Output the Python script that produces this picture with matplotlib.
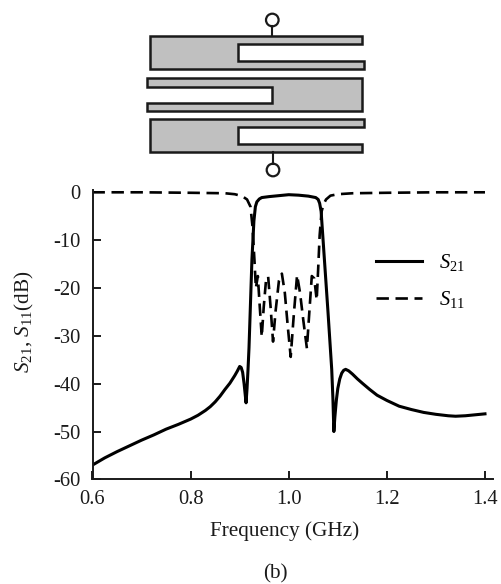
import matplotlib
matplotlib.use("Agg")
import matplotlib.pyplot as plt
from matplotlib.patches import Polygon, Circle

plt.rcParams['font.family'] = ['Liberation Serif', 'DejaVu Serif']
plt.rcParams['mathtext.fontset'] = 'custom'
plt.rcParams['mathtext.it'] = 'Liberation Serif:italic'
plt.rcParams['mathtext.rm'] = 'Liberation Serif'

W, H = 501, 584
FS_TICK = 14.8
FS_LABEL = 15.3

s21_f = [0.6, 0.625, 0.65, 0.675, 0.7, 0.725, 0.75, 0.775, 0.8, 0.815, 0.83, 0.84, 0.85, 0.86, 0.87, 0.88, 0.89,
         0.895, 0.9, 0.903, 0.906, 0.909, 0.911, 0.913, 0.915, 0.917, 0.919, 0.925, 0.929, 0.932, 0.935, 0.94,
         0.945, 0.96, 0.98, 1.0, 1.02, 1.04, 1.055, 1.06, 1.063, 1.066,
         1.072, 1.08, 1.0876, 1.09, 1.092, 1.094, 1.097, 1.1, 1.104, 1.108, 1.112, 1.116, 1.122, 1.13, 1.14, 1.15,
         1.165, 1.18, 1.2, 1.225, 1.25, 1.275, 1.3, 1.325, 1.34, 1.36, 1.38, 1.4]
s21_db = [-57, -55.5, -54.2, -53, -51.8, -50.7, -49.5, -48.5, -47.4, -46.6, -45.6, -44.8, -43.8, -42.6, -41.2, -39.9, -38.3,
          -37.4, -36.4, -36.6, -37.6, -40, -42, -44, -41, -37, -32.5, -14, -6, -3, -2, -1.4,
          -1.1, -0.9, -0.7, -0.5, -0.6, -0.8, -1.1, -1.5, -2.3, -4,
          -13, -25, -37, -43, -50, -47, -43.5, -41, -39, -37.8, -37.2, -37, -37.3, -38, -39, -39.9,
          -41.2, -42.4, -43.5, -44.7, -45.4, -46, -46.4, -46.7, -46.8, -46.7, -46.5, -46.3]

s11_f = [0.6, 0.7, 0.8, 0.87, 0.89, 0.905, 0.915, 0.922, 0.926, 0.93, 0.933, 0.937, 0.941, 0.945,
         0.949, 0.954, 0.958, 0.963, 0.968, 0.973, 0.98, 0.986, 0.992, 0.998, 1.004, 1.01, 1.017,
         1.023, 1.03, 1.037, 1.042, 1.047, 1.052, 1.057, 1.06, 1.063, 1.067, 1.071, 1.076, 1.085,
         1.1, 1.13, 1.2, 1.3, 1.4]
s11_db = [0, 0, -0.1, -0.2, -0.4, -0.8, -1.5, -3, -7, -14, -20, -17.5, -24, -30.2,
          -24, -18, -17.6, -24, -31.2, -25, -18.5, -17, -21, -28, -34.4, -26, -17.3,
          -21, -27, -32.6, -25, -17.5, -18, -22.5, -16, -9, -4, -2.5, -1.5, -0.7,
          -0.4, -0.2, -0.1, 0, 0]

xticks = [0.6, 0.8, 1.0, 1.2, 1.4]
yticks = [0, -10, -20, -30, -40, -50, -60]

top_res = [(150, 36), (361.7, 36), (361.7, 44.3), (237.7, 44.3), (237.7, 61.3), (364, 61.3), (364, 69), (150, 69)]
mid_res = [(147.3, 77.7), (361.7, 77.7), (361.7, 111), (147.3, 111), (147.3, 103.3), (271.7, 103.3), (271.7, 86.7), (147.3, 86.7)]
bot_res = [(150, 119), (364, 119), (364, 127), (237.7, 127), (237.7, 143.7), (361.7, 143.7), (361.7, 152.3), (150, 152.3)]

fig = plt.figure(figsize=(W / 100, H / 100), dpi=100)

# Schematic layer in pixel coordinates
bg = fig.add_axes([0, 0, 1, 1])
bg.set_xlim(0, W)
bg.set_ylim(H, 0)
bg.axis('off')
for pts in (top_res, mid_res, bot_res):
    bg.add_patch(Polygon(pts, closed=True, fc='#c0c0c0', ec='#1a1a1a', lw=1.8))
bg.plot([272.3, 272.3], [26, 36], color='#1a1a1a', lw=1.5)
bg.plot([273, 273], [152.3, 164], color='#1a1a1a', lw=1.5)
bg.add_patch(Circle((272.3, 20), 6.3, fc='white', ec='#1a1a1a', lw=1.6))
bg.add_patch(Circle((273, 170), 6.3, fc='white', ec='#1a1a1a', lw=1.6))
bg.text(275, 574, '(b)', ha='center', va='center', fontsize=FS_LABEL, color='#1a1a1a')

# Chart
x0, x1 = 92.5, 493.0
y_top, y_bot = 190.0, 479.4
ax = fig.add_axes([x0 / W, 1 - y_bot / H, (x1 - x0) / W, (y_bot - y_top) / H])
ax.patch.set_alpha(0)
ax.set_xlim(0.6, 0.6 + (x1 - x0) / 490.6)
ax.set_ylim(-60, (192.3 - y_top) / 4.785)
ax.plot(s21_f, s21_db, color='black', lw=2.2, label='$S_{21}$', solid_joinstyle='round')
ax.plot(s11_f, s11_db, color='black', lw=1.9, dashes=(4.7, 2.5), label='$S_{11}$')
for s in ('top', 'right'):
    ax.spines[s].set_visible(False)
for s in ('left', 'bottom'):
    ax.spines[s].set_linewidth(1.4)
    ax.spines[s].set_color('#1a1a1a')
ax.set_xticks(xticks)
ax.set_xticklabels(['%.1f' % v for v in xticks])
ax.set_yticks(yticks)
ax.set_yticklabels([str(v) for v in yticks])
ax.tick_params(direction='in', length=6, width=1.4, labelsize=FS_TICK, color='#1a1a1a', labelcolor='#1a1a1a')
ax.tick_params(axis='x', pad=7.5)
ax.tick_params(axis='y', pad=8.5)
ax.set_xlabel('Frequency (GHz)', fontsize=FS_LABEL, color='#1a1a1a')
ax.xaxis.set_label_coords((285 - x0) / (x1 - x0), -(531 - y_bot) / (y_bot - y_top), transform=ax.transAxes)
ax.xaxis.label.set_va('center')
ax.set_ylabel('$S_{21}$, $S_{11}$(dB)', fontsize=FS_LABEL, color='#1a1a1a')
ax.yaxis.set_label_coords(-(92.5 - 24) / (x1 - x0), (y_bot - 322) / (y_bot - y_top), transform=ax.transAxes)
ax.yaxis.label.set_va('center')
ax.legend(loc='upper left', bbox_to_anchor=(0.708, 0.786), frameon=False, fontsize=FS_TICK,
          handlelength=2.24, labelspacing=0.78, handletextpad=0.8, borderpad=0, borderaxespad=0)

fig.savefig('out.png', dpi=100)
